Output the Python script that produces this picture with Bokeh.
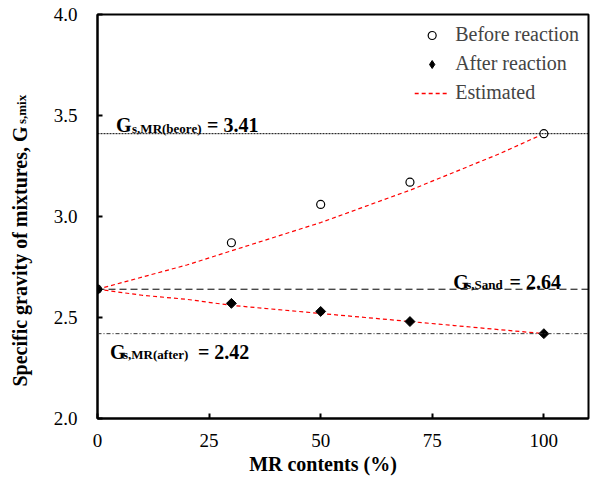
import numpy as np
from bokeh.plotting import figure
from bokeh.models import (Range1d, Span, Label, Legend, LegendItem, FixedTicker,
                          NumeralTickFormatter, LinearAxis, CustomJSTickFormatter)
from bokeh.embed import file_html
from bokeh.resources import INLINE

# ---- data ----
mr_contents = [0, 30, 50, 70, 100]
gs_before = [2.64, 2.87, 3.06, 3.17, 3.41]
gs_after = [2.64, 2.57, 2.53, 2.48, 2.42]

est_x = [0, 10, 20, 30, 40, 50, 60, 70, 80, 90, 100]
est_before = [2.64, 2.70, 2.76, 2.83, 2.90, 2.97, 3.05, 3.13, 3.22, 3.31, 3.41]
est_after = [2.64, 2.61, 2.59, 2.56, 2.54, 2.52, 2.50, 2.48, 2.46, 2.44, 2.42]

gs_mr_before = 3.41
gs_sand = 2.64
gs_mr_after = 2.42

x_ticks = [0, 25, 50, 75, 100]
y_ticks = [2.0, 2.5, 3.0, 3.5, 4.0]

FONT = "Liberation Serif"
NB = "\u00a0"

p = figure(width=592, height=477, output_backend="svg", toolbar_location=None,
           x_range=Range1d(0, 110), y_range=Range1d(2, 4),
           min_border_left=97, min_border_right=4, min_border_top=14,
           min_border_bottom=58)
p.background_fill_color = "white"
p.border_fill_color = "white"
p.outline_line_color = "black"
p.outline_line_width = 2
p.xgrid.visible = False
p.ygrid.visible = False

for ax in (p.xaxis[0], p.yaxis[0]):
    ax.axis_line_width = 2
    ax.axis_line_color = "black"
    ax.major_tick_in = 5
    ax.major_tick_out = 0
    ax.major_tick_line_width = 2
    ax.minor_tick_line_color = None
    ax.major_label_text_font = FONT
    ax.major_label_text_font_size = "19px"
    ax.major_label_text_color = "black"

p.xaxis.ticker = FixedTicker(ticks=x_ticks)
p.yaxis.ticker = FixedTicker(ticks=y_ticks)
p.xaxis.formatter = NumeralTickFormatter(format="0")
p.yaxis.formatter = NumeralTickFormatter(format="0.0")
p.xaxis.major_label_standoff = 15
p.yaxis.major_label_standoff = 20

# x axis title (trailing no-break spaces shift it left, as in the reference)
p.xaxis.axis_label = "MR contents (%)" + NB * 8
p.xaxis.axis_label_text_font = FONT
p.xaxis.axis_label_text_font_size = "20px"
p.xaxis.axis_label_text_font_style = "bold"
p.xaxis.axis_label_text_color = "black"
p.xaxis.axis_label_standoff = 3

# y axis title on an extra bare axis; its single tick label is the subscript
ytitle = LinearAxis(ticker=FixedTicker(ticks=[3.53]),
                    formatter=CustomJSTickFormatter(code="return 's,mix'"))
ytitle.axis_line_color = None
ytitle.major_tick_line_color = None
ytitle.minor_tick_line_color = None
ytitle.major_tick_in = 0
ytitle.major_tick_out = 0
ytitle.major_label_orientation = "vertical"
ytitle.major_label_text_font = FONT
ytitle.major_label_text_font_size = "13px"
ytitle.major_label_text_font_style = "bold"
ytitle.major_label_text_color = "black"
ytitle.major_label_standoff = 21
ytitle.axis_label = "Specific gravity of mixtures, G" + NB * 16
ytitle.axis_label_text_font = FONT
ytitle.axis_label_text_font_size = "20px"
ytitle.axis_label_text_font_style = "bold"
ytitle.axis_label_text_color = "black"
ytitle.axis_label_standoff = -19
p.add_layout(ytitle, "left")

# reference lines
p.add_layout(Span(location=gs_mr_before, dimension="width", line_color="black",
                  line_width=1, line_dash="2 1"))
p.add_layout(Span(location=gs_sand, dimension="width", line_color="black",
                  line_width=1, line_dash="7 4"))
p.add_layout(Span(location=gs_mr_after, dimension="width", line_color="#333333",
                  line_width=1, line_dash="4 2 1 2"))

# estimated curves
p.line(est_x, est_before, line_color="red", line_width=1.2, line_dash="4 3")
p.line(est_x, est_after, line_color="red", line_width=1.2, line_dash="4 3")

# points
c1 = p.scatter(mr_contents, gs_before, marker="circle", size=8,
               fill_color="white", line_color="black", line_width=1.2)
p.scatter(mr_contents, gs_after, marker="square", angle=np.pi / 4, size=7,
          fill_color="black", line_color="black")
# legend glyphs (hidden in the plot itself)
d_leg = p.scatter(mr_contents, gs_after, marker="diamond", size=11,
                  fill_color="black", line_color="black", visible=False)
l_leg = p.line(est_x, est_before, line_color="#ff0000", line_width=1.5,
               line_dash="4 3", visible=False)

legend = Legend(items=[LegendItem(label="Before reaction", renderers=[c1]),
                       LegendItem(label="After reaction", renderers=[d_leg]),
                       LegendItem(label="Estimated", renderers=[l_leg])],
                location="top_right")
legend.border_line_color = None
legend.background_fill_alpha = 0
legend.inactive_fill_alpha = 0
legend.label_text_font = FONT
legend.label_text_font_size = "20px"
legend.glyph_width = 35
legend.glyph_height = 20
legend.label_height = 20
legend.label_standoff = 6
legend.spacing = 6
legend.padding = 13
legend.margin = 9
p.add_layout(legend)

# annotation texts
def ann(x, y, txt, size):
    p.add_layout(Label(x=x, y=y, text=txt, text_font=FONT, text_font_size=size,
                       text_font_style="bold", text_color="black",
                       text_baseline="alphabetic"))

ann(4.15, 3.452, "G", "20px")
ann(7.74, 3.437, "s,MR(beore)", "13px")
ann(24.55, 3.452, "= 3.41", "20px")

ann(79.7, 2.677, "G", "20px")
ann(82.6, 2.662, "s,Sand", "13px")
ann(92.3, 2.677, "= 2.64", "20px")

ann(2.8, 2.331, "G", "20px")
ann(5.72, 2.316, "s,MR(after)", "13px")
ann(22.5, 2.331, "= 2.42", "20px")

open("out.html", "w").write(file_html(p, INLINE))
